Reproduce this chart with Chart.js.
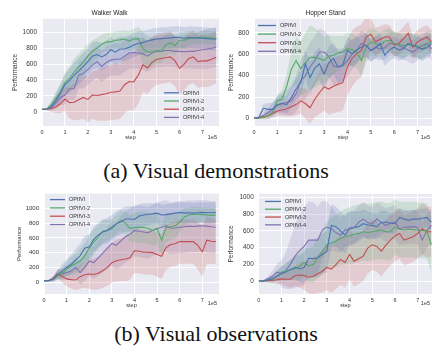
<!DOCTYPE html>
<html>
<head>
<meta charset="utf-8">
<script src="https://cdn.jsdelivr.net/npm/chart.js@4.4.0/dist/chart.umd.min.js"></script>
<style>
  body { margin: 0; background: #fff; width: 432px; height: 347px; overflow: hidden; position: relative; }
  canvas { position: absolute; }
  .cap { position: absolute; left: 0; width: 432px; text-align: center; font-family: "Liberation Serif", "Times New Roman", serif; font-size: 22px; line-height: 22px; color: #111; }
</style>
</head>
<body>
<canvas id="c1" width="219" height="142" style="left:0;top:0"></canvas>
<canvas id="c2" width="213" height="142" style="left:219px;top:0"></canvas>
<div class="cap" style="top:160px">(a) Visual demonstrations</div>
<canvas id="c3" width="219" height="125" style="left:0;top:185px"></canvas>
<canvas id="c4" width="213" height="125" style="left:219px;top:185px"></canvas>
<div class="cap" style="top:323px">(b) Visual observations</div>
<script>
/* ===========================
   DATA
=========================== */

const seriesNames = ['OPIfVI', 'OPIfVI-2', 'OPIfVI-3', 'OPIfVI-4'];
const steps = [0, 0.2, 0.4, 0.6, 0.8, 1.0, 1.2, 1.4, 1.6, 1.8, 2.0, 2.2, 2.4, 2.6, 2.8, 3.0, 3.2, 3.4, 3.6, 3.8,
  4.0, 4.2, 4.4, 4.6, 4.8, 5.0, 5.2, 5.4, 5.6, 5.8, 6.0, 6.2, 6.4, 6.6, 6.8, 7.0, 7.2, 7.4, 7.6];
const xTicks = [0, 1, 2, 3, 4, 5, 6, 7];
const yTicks1000 = [0, 200, 400, 600, 800, 1000];
const yTicks800 = [0, 200, 400, 600, 800];

// (a) Walker Walk
const walkA1 = [30,30,60,140,230,340,390,460,510,570,630,700,720,690,720,780,750,790,790,810,840,860,870,890,905,915,920,925,930,935,935,925,935,930,930,925,920,915,915];
const walkA2 = [30,30,90,170,250,370,420,500,560,620,700,760,800,850,880,880,900,905,915,890,915,920,800,750,750,770,760,840,870,830,900,900,920,930,930,940,935,930,920];
const walkA3 = [30,30,40,60,100,160,115,120,150,180,155,210,205,215,225,245,250,260,340,380,375,460,590,550,620,660,670,680,690,640,545,600,670,690,630,640,640,660,685];
const walkA4 = [30,30,50,110,180,210,290,290,460,480,530,590,630,570,620,650,660,660,700,740,745,740,730,700,740,760,760,770,770,760,760,755,760,760,770,780,790,800,815];
const walkA1sd = [0,10,40,80,110,130,150,160,170,170,170,170,170,170,170,160,160,160,150,150,150,150,150,140,140,140,140,140,140,140,140,140,140,140,140,140,140,140,140];
const walkA2sd = [0,10,50,80,100,120,150,170,170,170,150,140,130,120,110,110,110,110,110,120,130,150,200,200,180,160,150,140,130,120,100,100,90,80,80,80,80,80,80];
const walkA3sd = [0,10,40,80,120,150,200,230,250,270,290,300,320,330,340,350,350,350,360,360,360,360,340,330,320,320,320,320,320,320,330,330,330,330,330,330,330,330,330];
const walkA4sd = [0,10,40,80,100,120,140,150,170,180,190,200,200,200,200,200,200,200,200,200,200,200,200,200,200,200,200,200,200,200,200,210,210,220,230,240,250,250,250];

// (a) Hopper Stand
const hopA1 = [5,10,95,85,85,125,140,130,195,275,335,510,380,470,510,415,520,560,480,500,635,605,640,665,685,635,660,700,590,640,665,640,650,700,680,665,650,660,700];
const hopA2 = [5,5,10,25,60,165,180,300,460,540,465,520,570,570,560,540,580,590,610,620,650,640,620,540,665,715,700,680,720,730,700,690,680,690,680,680,640,700,715];
const hopA3 = [5,5,15,25,50,70,80,90,110,130,165,140,100,180,240,295,275,300,320,335,480,560,605,635,760,785,715,740,760,760,685,700,745,795,665,715,740,760,715];
const hopA4 = [5,5,30,55,90,130,140,150,165,230,350,400,480,540,620,620,580,490,480,495,540,600,635,700,680,635,665,650,660,700,700,680,660,640,620,650,680,700,650];
const hopA1sd = [0,10,40,60,60,70,80,80,100,100,120,130,150,150,150,150,150,150,150,140,130,120,120,110,110,100,100,100,100,100,100,100,100,100,100,100,100,100,100];
const hopA2sd = [0,5,20,30,40,60,80,120,180,220,250,280,300,280,250,220,200,180,160,150,150,150,150,150,140,130,120,120,110,110,110,110,110,110,110,110,110,110,110];
const hopA3sd = [0,5,20,30,40,50,60,70,90,100,120,140,150,170,200,220,240,250,260,260,260,260,250,240,200,150,130,120,120,110,110,110,110,110,110,110,110,110,110];
const hopA4sd = [0,5,20,40,60,80,100,120,140,170,200,220,230,230,220,200,190,180,170,160,150,140,130,120,110,110,110,110,110,110,110,110,110,110,110,110,110,110,110];

// (b) left panel
const walkB1 = [20,20,40,100,150,200,240,300,360,460,480,580,640,680,700,745,790,820,855,855,850,895,910,920,925,935,910,915,925,935,945,935,940,935,940,945,940,940,945];
const walkB2 = [20,20,40,90,120,175,220,250,290,360,460,540,610,690,700,725,790,835,800,730,740,745,740,730,700,730,570,740,750,765,810,880,910,920,920,915,910,905,910];
const walkB3 = [20,20,50,110,80,45,35,30,75,100,110,105,120,155,200,265,290,305,315,330,425,420,405,405,400,375,350,470,510,520,550,550,550,550,500,410,570,555,550];
const walkB4 = [20,20,40,110,110,130,150,200,130,200,285,265,330,395,460,525,500,560,615,650,700,690,680,670,700,725,745,765,730,735,745,750,760,755,760,765,760,750,745];
const walkB1sd = [0,10,30,60,90,110,130,150,160,170,170,170,170,170,170,170,170,170,170,170,170,160,160,150,140,140,140,140,140,140,140,140,140,140,140,140,140,140,140];
const walkB2sd = [0,10,30,60,80,100,120,140,160,170,170,170,160,150,140,130,130,140,160,180,200,210,210,210,210,210,210,200,180,160,140,120,100,100,100,100,100,100,100];
const walkB3sd = [0,10,30,60,80,100,120,140,160,180,200,210,220,230,250,270,280,290,300,300,300,300,300,300,300,300,300,300,300,300,300,300,300,300,320,340,320,310,300];
const walkB4sd = [0,10,30,60,80,100,120,140,160,180,200,220,240,260,280,300,320,340,350,350,350,350,350,350,350,350,350,350,350,350,350,350,350,350,350,350,350,350,350];

// (b) right panel
const hopB1 = [5,5,15,30,60,90,110,140,165,150,165,275,270,280,320,360,665,650,600,550,635,640,650,685,670,665,650,700,705,690,685,760,740,725,740,740,750,760,705];
const hopB2 = [5,5,15,30,60,110,120,140,150,180,225,185,200,280,350,435,455,480,510,530,540,560,570,590,580,590,600,610,590,590,645,620,610,620,615,610,605,600,435];
const hopB3 = [5,5,8,15,20,30,25,25,70,75,70,50,60,90,120,165,145,200,260,225,320,240,270,300,395,435,415,360,430,490,540,570,490,510,530,570,625,590,590];
const hopB4 = [5,5,30,60,110,90,130,205,300,365,415,490,490,490,610,645,625,580,550,610,620,640,700,740,700,685,740,700,665,690,705,625,640,645,650,640,490,600,665];
const hopB1sd = [0,5,20,40,60,80,100,120,140,160,180,200,220,230,240,250,250,240,230,220,200,190,180,170,160,150,150,140,130,120,120,110,110,110,110,110,110,110,110];
const hopB2sd = [0,5,20,40,60,80,100,120,140,160,180,200,220,240,260,280,300,310,320,330,340,340,340,340,340,340,340,340,340,340,330,330,330,330,330,330,330,330,330];
const hopB3sd = [0,5,20,30,50,60,80,100,120,150,170,190,210,230,250,270,280,290,300,300,300,300,300,300,300,300,300,300,300,300,300,300,300,300,300,300,300,300,300];
const hopB4sd = [0,5,30,60,100,160,220,300,380,420,460,460,450,400,350,300,260,230,210,200,200,200,200,200,200,200,200,200,200,200,200,200,200,200,200,200,200,200,200];

/* ===========================
   STYLE
=========================== */

const colors = ['76,114,176', '85,168,104', '196,78,82', '129,114,178'];
const FONT = '"Liberation Sans", Arial, sans-serif';
const TXT = '#333';

const bgPlugin = {
  id: 'bg',
  beforeDraw(chart) {
    const { ctx, chartArea: a } = chart;
    ctx.save();
    ctx.fillStyle = '#EAEAF2';
    ctx.fillRect(a.left, a.top, a.width, a.height);
    ctx.restore();
  }
};

const extrasPlugin = {
  id: 'extras',
  afterDatasetsDraw(chart, args, opts) {
    const { ctx, chartArea: a } = chart;
    ctx.save();
    ctx.font = '5.5px ' + FONT;
    ctx.fillStyle = TXT;
    ctx.textBaseline = 'middle';
    seriesNames.forEach((name, i) => {
      const y = a.top + opts.ly + i * opts.gap;
      ctx.strokeStyle = 'rgb(' + colors[i] + ')';
      ctx.lineWidth = 1.3;
      ctx.beginPath();
      ctx.moveTo(a.left + opts.lx, y);
      ctx.lineTo(a.left + opts.lx + opts.lw, y);
      ctx.stroke();
      ctx.fillText(name, a.left + opts.lx + opts.lw + 4, y + 0.3);
    });
    // scale offset text
    ctx.textAlign = 'right';
    ctx.font = '5.5px ' + FONT;
    ctx.fillText('1e5', a.right - 2, chart.height - opts.offY);
    ctx.restore();
  }
};

function buildSets(means, sds) {
  const lines = means.map((m, i) => ({
    label: seriesNames[i],
    data: steps.map((x, k) => ({ x, y: m[k] })),
    borderColor: 'rgb(' + colors[i] + ')',
    borderWidth: 1.1,
    pointRadius: 0,
    fill: false,
    tension: 0
  }));
  const bands = [];
  means.forEach((m, i) => {
    bands.push({
      data: steps.map((x, k) => ({ x, y: m[k] + sds[i][k] })),
      borderColor: 'rgba(0,0,0,0)', borderWidth: 0, pointRadius: 0, fill: false
    });
    bands.push({
      data: steps.map((x, k) => ({ x, y: m[k] - sds[i][k] })),
      borderColor: 'rgba(0,0,0,0)', borderWidth: 0, pointRadius: 0,
      fill: '-1', backgroundColor: 'rgba(' + colors[i] + ',0.2)'
    });
  });
  return lines.concat(bands);
}

function makeChart(id, cfg) {
  return new Chart(document.getElementById(id), {
    type: 'line',
    data: { datasets: buildSets(cfg.means, cfg.sds) },
    plugins: [bgPlugin, extrasPlugin],
    options: {
      responsive: false,
      animation: false,
      devicePixelRatio: 1,
      layout: { padding: { top: cfg.padTop, left: 0, right: 0, bottom: 0 } },
      plugins: {
        legend: { display: false },
        tooltip: { enabled: false },
        title: {
          display: !!cfg.title,
          text: cfg.title,
          color: '#262626',
          font: { family: FONT, size: 6.5, weight: 'normal' },
          padding: { top: 9, bottom: 2 }
        },
        extras: cfg.legend
      },
      scales: {
        x: {
          type: 'linear', min: 0, max: cfg.xMax,
          afterBuildTicks: s => { s.ticks = xTicks.map(v => ({ value: v })); },
          afterFit: s => { s.height = 16; },
          grid: { color: '#fff', lineWidth: 1, drawTicks: false },
          border: { display: false },
          ticks: { color: TXT, font: { family: FONT, size: 5.5 }, padding: 3, maxRotation: 0, callback: v => String(v) },
          title: { display: true, text: 'step', color: TXT, font: { family: FONT, size: 5.5 }, padding: { top: 0, bottom: 1 } }
        },
        y: {
          type: 'linear', min: cfg.yMin, max: cfg.yMax,
          afterBuildTicks: s => { s.ticks = cfg.yTicks.map(v => ({ value: v })); },
          afterFit: s => { s.width = cfg.yW; },
          grid: { color: '#fff', lineWidth: 1, drawTicks: false },
          border: { display: false },
          ticks: { color: TXT, font: { family: FONT, size: cfg.tickSize }, padding: 5, callback: v => String(v) },
          title: { display: true, text: 'Performance', color: TXT, font: { family: FONT, size: cfg.labSize }, padding: { top: cfg.yTitlePad, bottom: 0 } }
        }
      }
    }
  });
}

makeChart('c1', {
  title: 'Walker Walk', means: [walkA1, walkA2, walkA3, walkA4], sds: [walkA1sd, walkA2sd, walkA3sd, walkA4sd],
  xMax: 7.72, yMin: -180, yMax: 1170, yTicks: yTicks1000, yW: 42, padTop: 0,
  tickSize: 6.5, labSize: 6.5, yTitlePad: 11.8,
  legend: { lx: 122, ly: 74, gap: 8.2, lw: 15, offY: 5 }
});

makeChart('c2', {
  title: 'Hopper Stand', means: [hopA1, hopA2, hopA3, hopA4], sds: [hopA1sd, hopA2sd, hopA3sd, hopA4sd],
  xMax: 7.62, yMin: -70, yMax: 930, yTicks: yTicks800, yW: 35, padTop: 0,
  tickSize: 6.5, labSize: 6.5, yTitlePad: 8.8,
  legend: { lx: 4, ly: 6.7, gap: 8.6, lw: 18, offY: 5 }
});

makeChart('c3', {
  title: '', means: [walkB1, walkB2, walkB3, walkB4], sds: [walkB1sd, walkB2sd, walkB3sd, walkB4sd],
  xMax: 7.74, yMin: -160, yMax: 1200, yTicks: yTicks1000, yW: 44, padTop: 5.7,
  tickSize: 6, labSize: 6, yTitlePad: 15.7,
  legend: { lx: 6, ly: 6, gap: 8.3, lw: 15, offY: 7 }
});

makeChart('c4', {
  title: '', means: [hopB1, hopB2, hopB3, hopB4], sds: [hopB1sd, hopB2sd, hopB3sd, hopB4sd],
  xMax: 7.63, yMin: -150, yMax: 1040, yTicks: yTicks1000, yW: 39.7, padTop: 5.7,
  tickSize: 6.4, labSize: 6.5, yTitlePad: 8.7,
  legend: { lx: 6.3, ly: 7.6, gap: 7.8, lw: 16, offY: 7 }
});
</script>
</body>
</html>
